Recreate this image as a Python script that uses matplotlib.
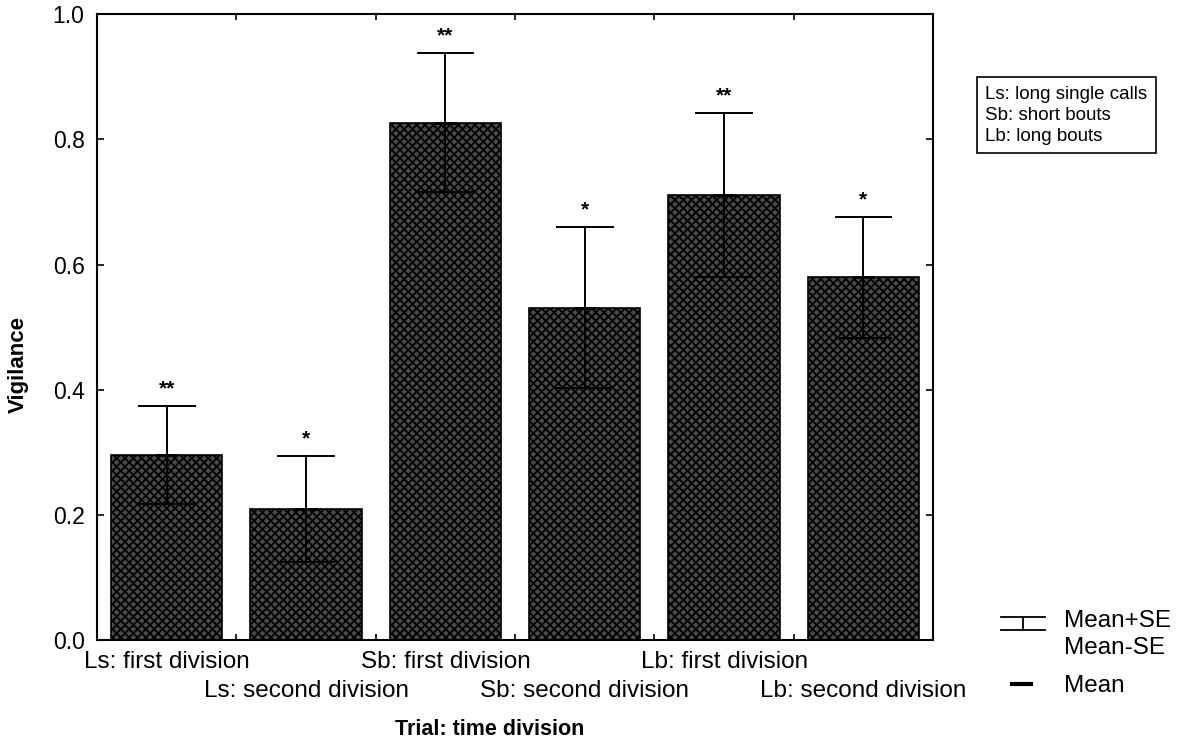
import numpy as np
import matplotlib
matplotlib.use("Agg")
import matplotlib.pyplot as plt
from matplotlib.lines import Line2D

plt.rcParams["font.family"] = ["Liberation Sans", "DejaVu Sans"]
plt.rcParams["hatch.color"] = "white"
plt.rcParams["hatch.linewidth"] = 1.3

# ---------- data ----------
labels = ["Ls: first division", "Ls: second division",
          "Sb: first division", "Sb: second division",
          "Lb: first division", "Lb: second division"]
means = [0.295, 0.209, 0.826, 0.531, 0.711, 0.580]
upper = [0.374, 0.294, 0.938, 0.660, 0.842, 0.676]   # mean + SE
lower = [0.217, 0.125, 0.716, 0.402, 0.580, 0.483]   # mean - SE
stars = ["**", "*", "**", "*", "**", "*"]

x = np.arange(len(labels))

fig = plt.figure(figsize=(11.85, 7.52), dpi=100)
ax = fig.add_axes([0.0819, 0.149, 0.7055, 0.832])

ax.bar(x, means, width=0.8, color="#4a4a4a", edgecolor="black",
       linewidth=1.2, hatch="xxxx", zorder=2)
for i in range(len(x)):
    ax.plot([x[i], x[i]], [lower[i], upper[i]], color="black", lw=1.4, zorder=3)
    for yy in (lower[i], upper[i]):
        ax.plot([x[i] - 0.2, x[i] + 0.2], [yy, yy], color="black", lw=1.4, zorder=3)
    ax.plot([x[i] - 0.07, x[i] + 0.07], [means[i], means[i]], color="black", lw=2, zorder=3)
    ax.text(x[i], upper[i] + 0.012, stars[i], ha="center", va="bottom",
            fontsize=15, fontweight="bold")

ax.set_xlim(-0.5, 5.5)
ax.set_ylim(0, 1.0)
ax.set_yticks(np.arange(0, 1.01, 0.2))
ax.set_yticklabels([f"{v:.1f}" for v in np.arange(0, 1.01, 0.2)], fontsize=16.5)
ax.tick_params(axis="y", direction="in", length=5, right=True, width=1.2, pad=9)
ax.set_xticks(x)
ax.set_xticklabels([])
ax.tick_params(axis="x", length=0)
ax.set_xticks(np.arange(0.5, 5.0, 1.0), minor=True)
ax.tick_params(axis="x", which="minor", direction="in", length=4, top=True, width=1.2)
for s in ax.spines.values():
    s.set_linewidth(1.5)

# staggered category labels
for i, lab in enumerate(labels):
    dy = -0.036 if i % 2 == 0 else -0.081
    ax.text(x[i], dy, lab, ha="center", va="center", fontsize=17.5,
            transform=ax.get_xaxis_transform())

ax.set_ylabel("Vigilance", fontsize=16, fontweight="bold")
ax.yaxis.set_label_coords(-0.082, 0.44)
fig.text(0.4135, 0.016, "Trial: time division", ha="center", va="bottom",
         fontsize=15.5, fontweight="bold")

# abbreviations box
fig.text(0.8315, 0.886, "Ls: long single calls\nSb: short bouts\nLb: long bouts",
         ha="left", va="top", fontsize=13.5, linespacing=1.3,
         bbox=dict(boxstyle="square,pad=0.45", facecolor="white",
                   edgecolor="black", linewidth=1.2))

# error bar key
kx0, kx1 = 1001 / 1185, 1045 / 1185
ky_top, ky_bot = 1 - 617 / 752, 1 - 630 / 752
kxc = (kx0 + kx1) / 2
fig.add_artist(Line2D([kx0, kx1], [ky_top, ky_top], color="black", lw=1.3))
fig.add_artist(Line2D([kx0, kx1], [ky_bot, ky_bot], color="black", lw=1.3))
fig.add_artist(Line2D([kxc, kxc], [ky_top, ky_bot], color="black", lw=1.3))
fig.text(1064 / 1185, 1 - 621 / 752, "Mean+SE", ha="left", va="center", fontsize=17.5)
fig.text(1064 / 1185, 1 - 648 / 752, "Mean-SE", ha="left", va="center", fontsize=17.5)
fig.add_artist(Line2D([1012 / 1185, 1031 / 1185], [1 - 684 / 752, 1 - 684 / 752],
                      color="black", lw=3))
fig.text(1064 / 1185, 1 - 686 / 752, "Mean", ha="left", va="center", fontsize=17.5)

fig.savefig("out.png", dpi=100)
